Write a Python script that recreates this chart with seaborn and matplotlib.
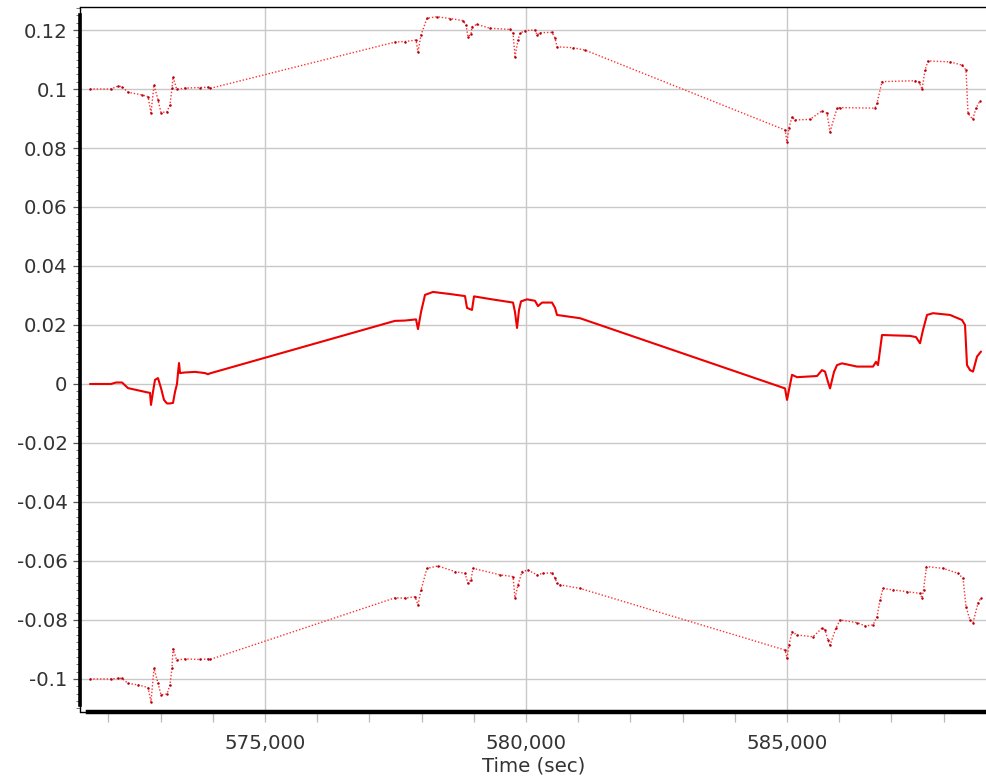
import matplotlib
matplotlib.use("Agg")
import matplotlib.pyplot as plt
import matplotlib.ticker as mticker
import numpy as np
import pandas as pd
import seaborn as sns

# --- time stamps (s) and values for the three traces -------------------------
top_t = [571648, 572050, 572184, 572261, 572376, 572644, 572759, 572816, 572874,
         572950, 573008, 573123, 573180, 573218, 573238, 573308, 573467, 573755,
         573908, 573946, 577490, 577682, 577893, 577931, 577989, 578103, 578295,
         578544, 578793, 578851, 578889, 578946, 578965, 579061, 579310, 579693,
         579751, 579789, 579847, 579885, 579981, 580172, 580211, 580268, 580498,
         580556, 580594, 580900, 581130, 584962, 585000, 585038, 585096, 585153,
         585441, 585670, 585766, 585824, 585958, 586015, 586686, 586724, 586820,
         587452, 587529, 587586, 587644, 587701, 588123, 588352, 588429, 588467,
         588556, 588620, 588697]
top_v = [0.1000, 0.1000, 0.1010, 0.1008, 0.0989, 0.0980, 0.0974, 0.0919, 0.1014,
         0.0963, 0.0920, 0.0923, 0.0946, 0.1003, 0.1041, 0.0999, 0.1003, 0.1005,
         0.1006, 0.1002, 0.1159, 0.1161, 0.1166, 0.1126, 0.1183, 0.1240, 0.1245,
         0.1239, 0.1232, 0.1217, 0.1177, 0.1186, 0.1211, 0.1219, 0.1206, 0.1202,
         0.1190, 0.1110, 0.1166, 0.1189, 0.1198, 0.1200, 0.1183, 0.1191, 0.1192,
         0.1173, 0.1143, 0.1140, 0.1132, 0.0861, 0.0821, 0.0868, 0.0906, 0.0895,
         0.0897, 0.0926, 0.0918, 0.0855, 0.0935, 0.0937, 0.0935, 0.0952, 0.1025,
         0.1028, 0.1024, 0.0999, 0.1064, 0.1095, 0.1092, 0.1081, 0.1064, 0.0918,
         0.0897, 0.0935, 0.0960]

mid_t = [571648, 572050, 572146, 572261, 572376, 572759, 572797, 572816, 572854,
         572893, 572950, 573008, 573065, 573123, 573180, 573238, 573276, 573314,
         573333, 573353, 573372, 573467, 573659, 573851, 573908, 573946, 577490,
         577682, 577893, 577931, 577989, 578065, 578218, 578544, 578831, 578870,
         578965, 579004, 579310, 579751, 579789, 579828, 579866, 579904, 580019,
         580172, 580230, 580307, 580498, 580556, 580594, 581034, 584962, 585000,
         585038, 585096, 585192, 585575, 585670, 585728, 585785, 585824, 585900,
         585958, 586053, 586341, 586647, 586705, 586743, 586782, 586820, 587356,
         587471, 587548, 587605, 587682, 587797, 588123, 588352, 588410, 588448,
         588506, 588563, 588640, 588716]
mid_v = [0.0000, 0.0000, 0.0005, 0.0005, -0.0014, -0.0029, -0.0030, -0.0071, -0.0027,
         0.0014, 0.0020, -0.0014, -0.0054, -0.0066, -0.0066, -0.0064, -0.0027, 0.0000,
         0.0037, 0.0071, 0.0037, 0.0039, 0.0041, 0.0037, 0.0033, 0.0036, 0.0214,
         0.0215, 0.0219, 0.0186, 0.0244, 0.0302, 0.0312, 0.0305, 0.0298, 0.0258,
         0.0251, 0.0297, 0.0288, 0.0276, 0.0244, 0.0190, 0.0251, 0.0280, 0.0287,
         0.0282, 0.0264, 0.0276, 0.0276, 0.0258, 0.0234, 0.0223, -0.0015, -0.0054,
         -0.0020, 0.0031, 0.0023, 0.0027, 0.0047, 0.0042, 0.0007, -0.0015, 0.0041,
         0.0064, 0.0070, 0.0059, 0.0059, 0.0075, 0.0064, 0.0115, 0.0166, 0.0163,
         0.0159, 0.0138, 0.0183, 0.0234, 0.0240, 0.0234, 0.0217, 0.0200, 0.0064,
         0.0047, 0.0042, 0.0093, 0.0110]

bot_t = [571648, 572050, 572184, 572261, 572376, 572567, 572759, 572816, 572874,
         572950, 573008, 573123, 573180, 573218, 573238, 573308, 573467, 573755,
         573908, 573946, 577490, 577682, 577874, 577931, 577989, 578103, 578314,
         578640, 578831, 578889, 578946, 578985, 579502, 579751, 579789, 579847,
         579923, 580038, 580211, 580326, 580498, 580556, 580594, 580651, 581034,
         584962, 585000, 585038, 585096, 585192, 585498, 585670, 585728, 585785,
         585824, 585939, 586015, 586341, 586494, 586647, 586724, 586782, 586839,
         587031, 587299, 587548, 587586, 587615, 587672, 587989, 588276, 588372,
         588429, 588506, 588563, 588659, 588716]
bot_v = [-0.1000, -0.1000, -0.0998, -0.0998, -0.1015, -0.1020, -0.1029, -0.1077, -0.0964,
         -0.1014, -0.1054, -0.1051, -0.1020, -0.0963, -0.0898, -0.0936, -0.0932, -0.0934,
         -0.0932, -0.0934, -0.0725, -0.0726, -0.0721, -0.0749, -0.0698, -0.0625, -0.0617,
         -0.0636, -0.0642, -0.0676, -0.0664, -0.0625, -0.0647, -0.0653, -0.0726, -0.0681,
         -0.0636, -0.0631, -0.0647, -0.0642, -0.0640, -0.0658, -0.0676, -0.0681, -0.0693,
         -0.0902, -0.0930, -0.0885, -0.0840, -0.0851, -0.0857, -0.0828, -0.0834, -0.0868,
         -0.0885, -0.0827, -0.0800, -0.0809, -0.0820, -0.0817, -0.0789, -0.0732, -0.0693,
         -0.0698, -0.0704, -0.0710, -0.0726, -0.0698, -0.0619, -0.0625, -0.0642, -0.0659,
         -0.0755, -0.0800, -0.0809, -0.0743, -0.0725]

y_ticks = [0.12, 0.1, 0.08, 0.06, 0.04, 0.02, 0, -0.02, -0.04, -0.06, -0.08, -0.1]
x_ticks = [575000, 580000, 585000]
x_label = "Time (sec)"

# --- figure ------------------------------------------------------------------
sns.set_theme(style="whitegrid")
plt.rcParams["font.family"] = ["DejaVu Sans"]
text_col = "#333333"
fs = 14.2

fig = plt.figure(figsize=(9.87, 7.8), dpi=100)
ax = fig.add_axes([80 / 987, 68 / 780, 907 / 987, 705 / 780])

top_df = pd.DataFrame({"t": top_t, "v": top_v})
mid_df = pd.DataFrame({"t": mid_t, "v": mid_v})
bot_df = pd.DataFrame({"t": bot_t, "v": bot_v})

dotted = dict(color="#ff3030", linewidth=1.0, linestyle=(0, (1, 1.4)),
              marker="o", markersize=1.8, markerfacecolor="#b00010",
              markeredgecolor="#b00010", markeredgewidth=0)
sns.lineplot(data=top_df, x="t", y="v", sort=False, estimator=None, ax=ax, **dotted)
sns.lineplot(data=bot_df, x="t", y="v", sort=False, estimator=None, ax=ax, **dotted)
sns.lineplot(data=mid_df, x="t", y="v", sort=False, estimator=None, ax=ax,
             color="#ee0000", linewidth=1.5)

ax.set_xlim(571456, 588831)
ax.set_ylim(-0.1112, 0.1278)

ax.set_xticks(x_ticks)
ax.xaxis.set_minor_locator(mticker.MultipleLocator(1000))
ax.set_yticks(y_ticks)
ax.yaxis.set_minor_locator(mticker.MultipleLocator(0.0025))
ax.xaxis.set_major_formatter(mticker.FuncFormatter(lambda v, p: f"{v:,.0f}"))
ax.yaxis.set_major_formatter(mticker.FuncFormatter(lambda v, p: f"{round(v, 4):g}"))

ax.grid(True, which="major", color="#c8c8c8", linewidth=1.0)
ax.grid(False, which="minor")
ax.set_facecolor("white")

ax.tick_params(axis="y", which="major", direction="out", length=5, width=0.9,
               color="#555555", labelsize=fs, labelcolor=text_col, pad=4, left=True)
ax.tick_params(axis="y", which="minor", direction="out", length=3, width=0.7,
               color="#777777", left=True)
ax.tick_params(axis="x", which="major", direction="out", length=7, width=0.9,
               color="#bbbbbb", labelsize=fs, labelcolor=text_col, pad=9, bottom=True)
ax.tick_params(axis="x", which="minor", direction="out", length=7, width=0.9,
               color="#bbbbbb", bottom=True)

ax.set_xlabel(x_label, fontsize=fs, color=text_col, labelpad=2)
ax.set_ylabel("")

for side in ("top", "left", "bottom"):
    ax.spines[side].set_visible(True)
    ax.spines[side].set_color("black")
ax.spines["right"].set_visible(False)
ax.spines["top"].set_linewidth(1.0)
ax.spines["left"].set_linewidth(2.6)
ax.spines["left"].set_bounds(-0.1088, 0.1251)
ax.spines["bottom"].set_linewidth(3.2)
ax.spines["bottom"].set_bounds(571609, 588831)
# thin frame edge below the thick left spine
ax.plot([0, 0], [0, 1], transform=ax.transAxes, color="black", linewidth=1.0,
        clip_on=False, zorder=5)
ax.plot([0, 0.01], [0, 0], transform=ax.transAxes, color="black", linewidth=1.0,
        clip_on=False, zorder=5)

fig.savefig("out.png", dpi=100)
